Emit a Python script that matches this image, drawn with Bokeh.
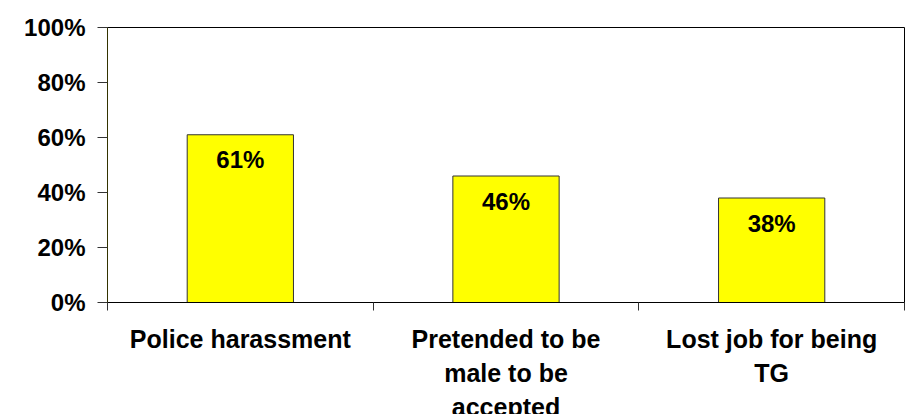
from bokeh.plotting import figure
from bokeh.models import ColumnDataSource, FixedTicker, NumeralTickFormatter, Range1d
from bokeh.core.properties import value
from bokeh.embed import file_html
from bokeh.resources import INLINE

categories = ["Police harassment", "Pretended to be male to be accepted", "Lost job for being TG"]
tick_labels = ["Police harassment", "Pretended to be\nmale to be\naccepted", "Lost job for being\nTG"]
values = [0.61, 0.46, 0.38]
value_labels = ["61%", "46%", "38%"]
y_ticks = [0, 0.2, 0.4, 0.6, 0.8, 1.0]

FONT = "Liberation Sans"

xs = [i + 0.5 for i in range(len(categories))]
src = ColumnDataSource(dict(x=xs, top=values, cat=categories, lab=value_labels))

p = figure(frame_width=797, frame_height=275, output_backend="svg", toolbar_location=None,
           x_range=Range1d(0, len(categories)), y_range=Range1d(0, 1),
           min_border_left=107, min_border_right=14, min_border_top=27, min_border_bottom=112)
p.background_fill_color = "white"
p.border_fill_color = "white"
p.outline_line_color = "black"
p.outline_line_width = 1
p.grid.visible = False

p.vbar(x="x", top="top", width=0.4, bottom=0, source=src,
       fill_color="#FFFF00", line_color="#333333", line_width=1)

p.text(x="x", y="top", text="lab", source=src, y_offset=25,
       text_align="center", text_baseline="middle",
       text_font=value(FONT), text_font_style="bold", text_font_size="24px",
       text_color="black")

# y axis
p.yaxis.ticker = FixedTicker(ticks=y_ticks)
p.yaxis.formatter = NumeralTickFormatter(format="0%")
p.yaxis.major_tick_out = 10
p.yaxis.major_tick_in = 0
p.yaxis.minor_tick_out = 0
p.yaxis.minor_tick_in = 0
p.yaxis.major_label_standoff = 12
p.yaxis.major_label_text_font = FONT
p.yaxis.major_label_text_font_style = "bold"
p.yaxis.major_label_text_font_size = "24px"
p.yaxis.major_label_text_color = "black"
p.yaxis.axis_line_color = "#333300"
p.yaxis.major_tick_line_color = "#333333"

# x axis: labels at category centres, tick marks at category boundaries
p.xaxis.ticker = FixedTicker(ticks=xs, minor_ticks=list(range(len(categories) + 1)))
p.xaxis.major_label_overrides = {x: t for x, t in zip(xs, tick_labels)}
p.xaxis.major_tick_out = 0
p.xaxis.major_tick_in = 0
p.xaxis.minor_tick_out = 8
p.xaxis.minor_tick_in = 0
p.xaxis.minor_tick_line_color = "#333333"
p.xaxis.axis_line_color = "black"
p.xaxis.major_label_standoff = 14
p.xaxis.major_label_text_font = FONT
p.xaxis.major_label_text_font_style = "bold"
p.xaxis.major_label_text_font_size = "25px"
p.xaxis.major_label_text_color = "black"
p.xaxis.major_label_text_line_height = 1.22

open("out.html", "w").write(file_html(p, INLINE))
